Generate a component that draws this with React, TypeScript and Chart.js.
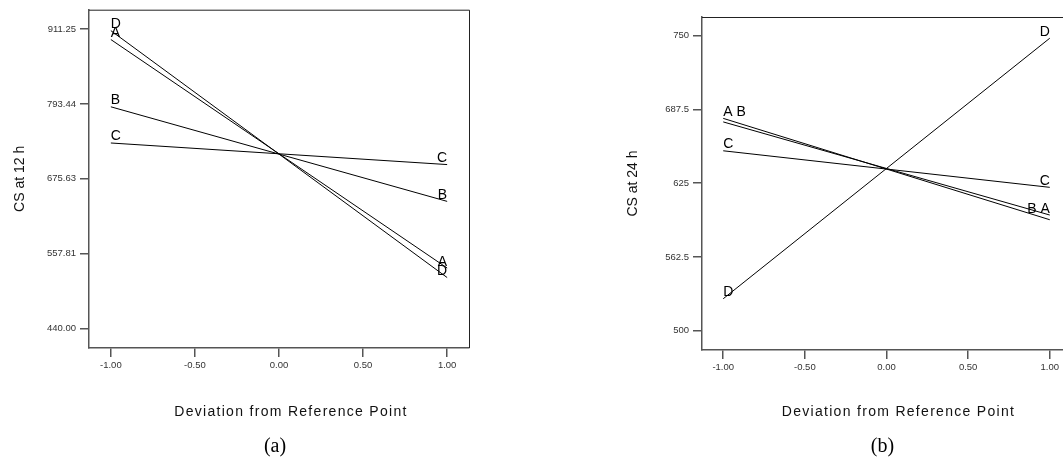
import React, { useEffect, useRef } from "react";
import { Chart, registerables } from "chart.js";

Chart.register(...registerables);

// ---- data ----
const xValues = [-1, 1];
const seriesNames = ["A", "B", "C", "D"];

// panel (a): CS at 12 h
const aSeriesA = [895, 535];
const aSeriesB = [789, 640];
const aSeriesC = [732, 698];
const aSeriesD = [909, 520];
const aLeftLabels = ["A", "B", "C", "D"];
const aRightLabels = ["A", "B", "C", "D"];
const aYTickValues = [440, 557.8125, 675.625, 793.4375, 911.25];
const aYTickLabels = ["440.00", "557.81", "675.63", "793.44", "911.25"];

// panel (b): CS at 24 h
const bSeriesA = [680, 594];
const bSeriesB = [677, 598];
const bSeriesC = [652.5, 621.5];
const bSeriesD = [527, 748];
const bLeftLabels = ["A B", "", "C", "D"];
const bRightLabels = ["", "B A", "C", "D"];
const bYTickValues = [500, 562.5, 625, 687.5, 750];
const bYTickLabels = ["500", "562.5", "625", "687.5", "750"];

const xTickValues = [-1, -0.5, 0, 0.5, 1];
const xTickLabels = ["-1.00", "-0.50", "0.00", "0.50", "1.00"];
const xTitle = "Deviation from Reference Point";

const SANS = "'Liberation Sans', Arial, sans-serif";
const SERIF = "'Liberation Serif', 'Times New Roman', serif";

type PanelProps = {
  left: number;
  width: number;
  height: number;
  area: { left: number; top: number; right: number; bottom: number };
  yMin: number;
  yMax: number;
  series: number[][];
  leftLabels: string[];
  rightLabels: string[];
  yTickValues: number[];
  yTickLabels: string[];
  yTitle: string;
  caption: string;
};

function Panel(p: PanelProps) {
  const ref = useRef<HTMLCanvasElement | null>(null);
  useEffect(() => {
    if (!ref.current) return;
    const decor = {
      id: "decor",
      afterDraw(chart: any) {
        const ctx = chart.ctx;
        const ca = chart.chartArea;
        ctx.save();
        // top & right frame
        ctx.strokeStyle = "#222";
        ctx.lineWidth = 1;
        ctx.beginPath();
        ctx.moveTo(ca.left, ca.top + 0.5);
        ctx.lineTo(ca.right + 0.5, ca.top + 0.5);
        ctx.lineTo(ca.right + 0.5, ca.bottom);
        ctx.stroke();
        // series letters
        ctx.fillStyle = "#000";
        ctx.font = `14px ${SANS}`;
        ctx.textBaseline = "alphabetic";
        p.series.forEach((_, i) => {
          const meta = chart.getDatasetMeta(i);
          const p0 = meta.data[0];
          const p1 = meta.data[meta.data.length - 1];
          if (p.leftLabels[i]) {
            ctx.textAlign = "left";
            ctx.fillText(p.leftLabels[i], p0.x, p0.y - 2.5);
          }
          if (p.rightLabels[i]) {
            ctx.textAlign = "right";
            ctx.fillText(p.rightLabels[i], p1.x, p1.y - 2.5);
          }
        });
        const xs = chart.scales.x;
        const x0 = xs.getPixelForValue(0);
        // y title
        ctx.save();
        ctx.translate(ca.left - 69, (ca.top + ca.bottom) / 2);
        ctx.rotate(-Math.PI / 2);
        ctx.textAlign = "center";
        ctx.textBaseline = "middle";
        ctx.font = `14px ${SANS}`;
        ctx.fillStyle = "#111";
        ctx.fillText(p.yTitle, 0, 0);
        ctx.restore();
        // x title
        ctx.textAlign = "center";
        ctx.textBaseline = "middle";
        ctx.font = `14px ${SANS}`;
        ctx.fillStyle = "#111";
        try { (ctx as any).letterSpacing = "1.3px"; } catch (e) {}
        ctx.fillText(xTitle, x0 + 12, 412);
        try { (ctx as any).letterSpacing = "0px"; } catch (e) {}
        // caption
        ctx.font = `20px ${SERIF}`;
        ctx.fillStyle = "#000";
        ctx.fillText(p.caption, x0 - 4, 447);
        ctx.restore();
      },
    };
    const chart = new Chart(ref.current, {
      type: "line",
      data: {
        datasets: p.series.map((vals, i) => ({
          label: seriesNames[i],
          data: xValues.map((x, j) => ({ x, y: vals[j] })),
          borderColor: "#000",
          borderWidth: 1,
          pointRadius: 0,
          fill: false,
          tension: 0,
        })),
      },
      options: {
        animation: false,
        responsive: false,
        maintainAspectRatio: false,
        events: [],
        layout: {
          padding: { left: 0, top: p.area.top, right: p.width - p.area.right, bottom: 0 },
        },
        plugins: { legend: { display: false }, tooltip: { enabled: false }, title: { display: false } },
        scales: {
          x: {
            type: "linear",
            min: -1.13,
            max: 1.13,
            afterBuildTicks: (s: any) => {
              s.ticks = xTickValues.map((v) => ({ value: v }));
            },
            afterFit: (s: any) => {
              s.height = p.height - p.area.bottom;
            },
            ticks: {
              callback: (_v: any, i: number) => xTickLabels[i],
              font: { family: SANS, size: 9.5 },
              color: "#333",
              padding: 3,
              maxRotation: 0,
              autoSkip: false,
            },
            grid: { drawOnChartArea: false, drawTicks: true, tickLength: 9, color: "#555", lineWidth: 1.5 },
            border: { display: true, color: "#555", width: 1.5 },
          },
          y: {
            type: "linear",
            min: p.yMin,
            max: p.yMax,
            afterBuildTicks: (s: any) => {
              s.ticks = p.yTickValues.map((v) => ({ value: v }));
            },
            afterFit: (s: any) => {
              s.width = p.area.left;
            },
            ticks: {
              callback: (_v: any, i: number) => p.yTickLabels[i],
              font: { family: SANS, size: 9.5 },
              color: "#333",
              padding: 4,
              autoSkip: false,
            },
            grid: { drawOnChartArea: false, drawTicks: true, tickLength: 9, color: "#555", lineWidth: 1.5 },
            border: { display: true, color: "#555", width: 1.5 },
          },
        },
      } as any,
      plugins: [decor],
    });
    return () => chart.destroy();
  }, []);
  return (
    <canvas
      ref={ref}
      width={p.width}
      height={p.height}
      style={{ position: "absolute", left: p.left, top: 0, width: p.width, height: p.height }}
    />
  );
}

export default function App() {
  return (
    <div
      style={{
        position: "absolute",
        left: 0,
        top: 0,
        width: 1063,
        height: 463,
        overflow: "hidden",
        background: "#fff",
      }}
    >
      <Panel
        left={0}
        width={531}
        height={463}
        area={{ left: 89, top: 9, right: 469, bottom: 348 }}
        yMin={409}
        yMax={942}
        series={[aSeriesA, aSeriesB, aSeriesC, aSeriesD]}
        leftLabels={aLeftLabels}
        rightLabels={aRightLabels}
        yTickValues={aYTickValues}
        yTickLabels={aYTickLabels}
        yTitle="CS at 12 h"
        caption="(a)"
      />
      <Panel
        left={531}
        width={560}
        height={463}
        area={{ left: 171, top: 17, right: 540, bottom: 350 }}
        yMin={483.5}
        yMax={766}
        series={[bSeriesA, bSeriesB, bSeriesC, bSeriesD]}
        leftLabels={bLeftLabels}
        rightLabels={bRightLabels}
        yTickValues={bYTickValues}
        yTickLabels={bYTickLabels}
        yTitle="CS at 24 h"
        caption="(b)"
      />
    </div>
  );
}
